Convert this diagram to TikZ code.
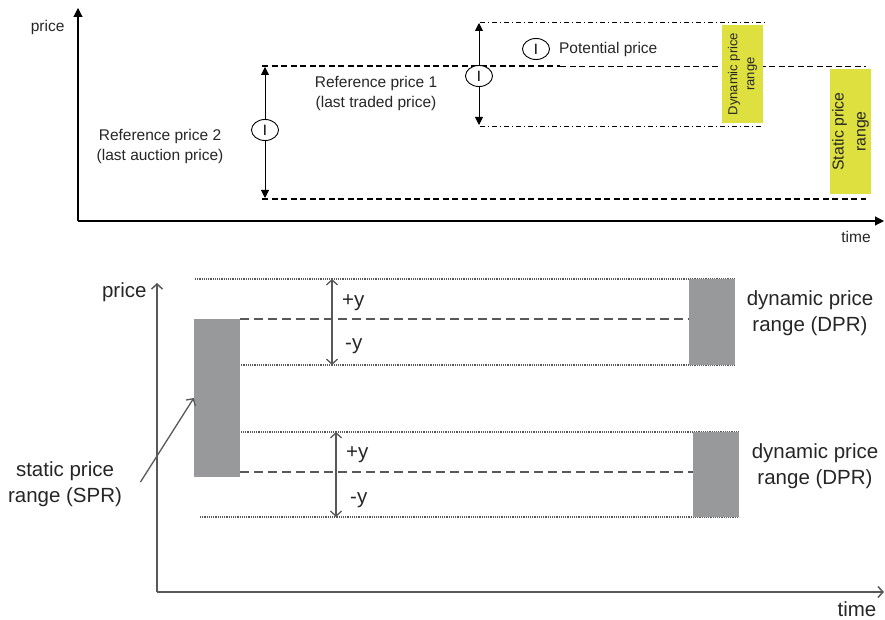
\documentclass[tikz,border=0pt]{standalone}
\usepackage{fontspec}
\setmainfont{Liberation Sans}
\usetikzlibrary{arrows.meta,positioning,shapes.geometric}
\definecolor{rangeyellow}{HTML}{DDE03F}
\definecolor{ink}{HTML}{58585A}
\definecolor{boxgray}{HTML}{98999B}

\begin{document}
\begin{tikzpicture}[x=1pt, y=-1pt,
  axis/.style={line width=1.1pt, black, -{Triangle[length=9pt,width=9pt]}},
  tip/.style={line width=0.9pt, black, -{Triangle[length=8pt,width=8pt]}},
  ring/.style={ellipse, draw, line width=0.9pt, fill=white, minimum width=27pt, minimum height=21pt, inner sep=0pt, font=\fontsize{15}{15}\selectfont},
  lab/.style={align=center, text=black!85, font=\fontsize{15.5}{20}\selectfont},
  ybox/.style={fill=rangeyellow, rotate=90, align=center, inner sep=0pt, text=black!85},
  ref/.style={line width=1.6pt, dash pattern=on 6pt off 3.5pt},
  band/.style={line width=0.8pt, dash pattern=on 5pt off 3pt on 1pt off 3pt},
  gaxis/.style={line width=1.5pt, ink, -{Straight Barb[length=5pt,width=11pt]}},
  garr/.style={line width=1.3pt, ink, {Straight Barb[length=5pt,width=11pt]}-{Straight Barb[length=5pt,width=11pt]}},
  dot/.style={line width=1.1pt, ink, dash pattern=on 1.1pt off 1.1pt},
  dsh/.style={line width=1.3pt, ink, dash pattern=on 9pt off 5pt},
  gbox/.style={fill=boxgray, inner sep=0pt},
  big/.style={align=center, text=black!85, font=\fontsize{20.5}{26}\selectfont}]
  \useasboundingbox (0,0) rectangle (885,620);
  % upper chart: axes
  \coordinate (o1) at (78,221);
  \draw[axis] (o1) -- (78,8);
  \draw[axis] (o1) -- (884,221);
  \node[lab, anchor=east] (p1) at (68,27) {price};
  \node[lab] (t1) at (856,237) {time};
  % reference levels and the band round the potential price
  \draw[ref] (262,66) -- (560,66);
  \draw[ref, line width=0.9pt] (560,66) -- (866,66);
  \draw[ref] (262,199) -- (866,199);
  \draw[band] (480,22) -- (767,22);
  \draw[band] (480,126) -- (763,126);
  % ranges
  \node[ybox, font=\fontsize{13}{17}\selectfont, minimum width=98pt, minimum height=41pt] (dyn) at (742.5,74) {Dynamic price\\range};
  \node[ybox, font=\fontsize{15.8}{22}\selectfont, minimum width=125pt, minimum height=41pt] (stat) at (850.5,131.5) {Static price\\range};
  % reference price 2
  \node[ring] (i2) at (265,130) {I};
  \coordinate (i2top) at (265,67);
  \coordinate (i2bot) at (265,198);
  \draw[tip] (i2) -- (i2top);
  \draw[tip] (i2) -- (i2bot);
  \node[lab] (r2) at (160,146) {Reference price 2\\(last auction price)};
  \node[lab] (r1) at (376,93) {Reference price 1\\(last traded price)};
  % potential price
  \node[ring] (i1) at (479,76) {I};
  \coordinate (i1top) at (479,23);
  \coordinate (i1bot) at (479,125);
  \draw[tip] (i1) -- (i1top);
  \draw[tip] (i1) -- (i1bot);
  \node[ring] (leg) at (536,49) {I};
  \node[lab, inner sep=0pt, right=9pt of leg] (pot) {Potential price};

  % lower chart: axes
  \coordinate (o2) at (157,592);
  \draw[gaxis] (o2) -- (157,283);
  \draw[gaxis] (o2) -- (884,592);
  \node[big, anchor=east] (p2) at (150,292) {price};
  \node[big] (t2) at (857,609) {time};
  % levels
  \draw[dot] (195,279) -- (735,279);
  \draw[dsh] (240,319) -- (689,319);
  \draw[dot] (195,365) -- (735,365);
  \draw[dot] (199,432) -- (739,432);
  \draw[dsh] (240,472) -- (693,472);
  \draw[dot] (200,517) -- (739,517);
  % boxes
  \node[gbox, minimum width=46pt, minimum height=158pt] (sprbox) at (217,398) {};
  \node[gbox, minimum width=46pt, minimum height=86pt] (dpr1) at (712,322) {};
  \node[gbox, minimum width=46pt, minimum height=85pt] (dpr2) at (716,474.5) {};
  % +y / -y
  \coordinate (u1) at (332,279);
  \coordinate (d1) at (332,365);
  \draw[garr] (u1) -- (d1);
  \node[big, anchor=west, inner sep=0pt] (pl1) at (342,303) {+y};
  \node[big, anchor=west, inner sep=0pt] (mi1) at (345,346) {-y};
  \coordinate (u2) at (336,432);
  \coordinate (d2) at (336,517);
  \draw[garr] (u2) -- (d2);
  \node[big, anchor=west, inner sep=0pt] (pl2) at (346,455) {+y};
  \node[big, anchor=west, inner sep=0pt] (mi2) at (350,500) {-y};
  % labels
  \node[big] (spr) at (65,484) {static price\\range (SPR)};
  \draw[gaxis, line width=1.3pt] ([xshift=15pt,yshift=2pt]spr.east) -- (sprbox.west);
  \node[big] (dl1) at (810,313) {dynamic price\\range (DPR)};
  \node[big] (dl2) at (815,466) {dynamic price\\range (DPR)};
\end{tikzpicture}
\end{document}
